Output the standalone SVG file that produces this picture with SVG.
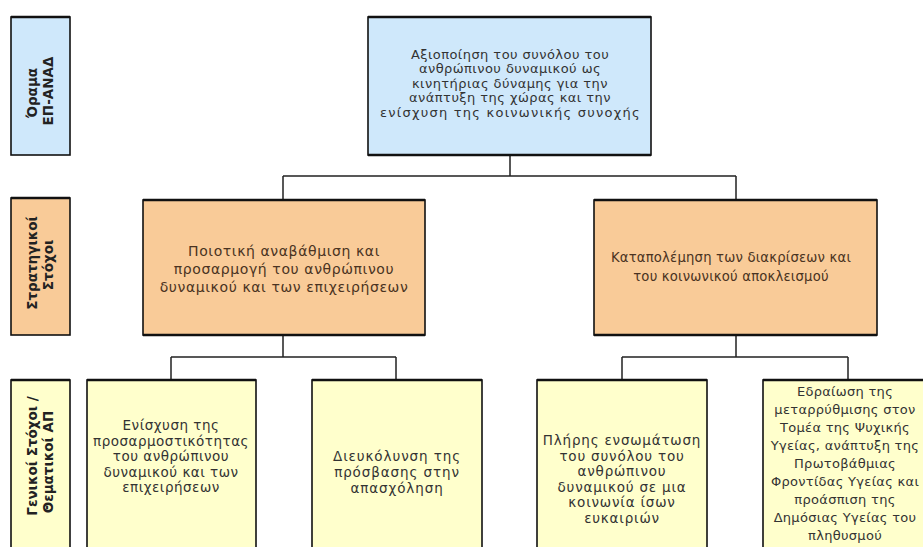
<svg xmlns="http://www.w3.org/2000/svg" width="923" height="547" viewBox="0 0 923 547">
<style>
.box{stroke:#111;stroke-width:1.6}
.edge{stroke:#111;stroke-width:2.6}
.blue{fill:#cfe8fb}
.orange{fill:#f9cb98}
.yellow{fill:#ffffcc}
.t{font-family:"DejaVu Sans","Noto Sans",sans-serif;font-size:13.5px;letter-spacing:0.5px;fill:#333;text-anchor:middle}
.to{fill:#4a3322}
.lab{font-family:"DejaVu Sans","Noto Sans",sans-serif;font-size:13.5px;font-weight:bold;fill:#222;text-anchor:middle}
.conn{stroke:#222;stroke-width:1.5;fill:none}
</style>
<rect width="923" height="547" fill="#fff"/>
<g id="label-vision">
<rect class="box blue" x="11" y="17" width="59" height="138"/>
<line class="edge" x1="11" y1="17" x2="70" y2="17"/>
<text class="lab" transform="translate(37,93) rotate(-90)">Όραμα</text>
<text class="lab" transform="translate(53,91) rotate(-90)">ΕΠ-ΑΝΑΔ</text>
</g>
<g id="label-strategic">
<rect class="box orange" x="11" y="198" width="59" height="137"/>
<line class="edge" x1="11" y1="198" x2="70" y2="198"/>
<text class="lab" transform="translate(37,263) rotate(-90)">Στρατηγικοί</text>
<text class="lab" transform="translate(53,265) rotate(-90)">Στόχοι</text>
</g>
<g id="label-general">
<rect class="box yellow" x="11" y="380" width="59" height="180"/>
<line class="edge" x1="11" y1="380" x2="70" y2="380"/>
<text class="lab" transform="translate(37,456) rotate(-90)">Γενικοί Στόχοι /</text>
<text class="lab" transform="translate(53,462) rotate(-90)">Θεματικοί ΑΠ</text>
</g>
<g id="connectors">
<path class="conn" d="M510 155V176M283 176H736M283 176V200M736 176V200"/>
<path class="conn" d="M283 335V357M171 357H396M171 357V380M396 357V380"/>
<path class="conn" d="M736 335V357M622 357H848M622 357V380M848 357V380"/>
</g>
<g id="vision">
<rect class="box blue" x="368" y="17" width="283" height="138"/>
<line class="edge" x1="368" y1="17" x2="651" y2="17"/>
<line class="edge" x1="368" y1="155" x2="651" y2="155"/>
<text class="t" style="font-size:13px;letter-spacing:0.45px"><tspan x="510" y="58.5">Αξιοποίηση του συνόλου του</tspan><tspan x="510" y="73">ανθρώπινου δυναμικού ως</tspan><tspan x="510" y="87.5">κινητήριας δύναμης για την</tspan><tspan x="510" y="102">ανάπτυξη της χώρας και την</tspan><tspan x="510" y="116.5" textLength="260">ενίσχυση της κοινωνικής συνοχής</tspan></text>
</g>
<g id="strategic-1">
<rect class="box orange" x="143" y="200" width="282" height="135"/>
<line class="edge" x1="143" y1="200" x2="425" y2="200"/>
<line class="edge" x1="143" y1="335" x2="425" y2="335"/>
<text class="t to" style="font-size:14px;letter-spacing:0.6px"><tspan x="284" y="255.5">Ποιοτική αναβάθμιση και</tspan><tspan x="284" y="273.5">προσαρμογή του ανθρώπινου</tspan><tspan x="284" y="291.5">δυναμικού και των επιχειρήσεων</tspan></text>
</g>
<g id="strategic-2">
<rect class="box orange" x="594" y="200" width="283" height="135"/>
<line class="edge" x1="594" y1="200" x2="877" y2="200"/>
<line class="edge" x1="594" y1="335" x2="877" y2="335"/>
<text class="t to" style="font-size:13.2px;letter-spacing:0.2px"><tspan x="731" y="262">Καταπολέμηση των διακρίσεων και</tspan><tspan x="731" y="281">του κοινωνικού αποκλεισμού</tspan></text>
</g>
<g id="goal-1">
<rect class="box yellow" x="87" y="380" width="169" height="180"/>
<line class="edge" x1="87" y1="380" x2="256" y2="380"/>
<text class="t"><tspan x="171" y="430">Ενίσχυση της</tspan><tspan x="171" y="445.5">προσαρμοστικότητας</tspan><tspan x="171" y="461">του ανθρώπινου</tspan><tspan x="171" y="476.5">δυναμικού και των</tspan><tspan x="171" y="492">επιχειρήσεων</tspan></text>
</g>
<g id="goal-2">
<rect class="box yellow" x="312" y="380" width="170" height="180"/>
<line class="edge" x1="312" y1="380" x2="482" y2="380"/>
<text class="t" style="letter-spacing:0.9px"><tspan x="397" y="461">Διευκόλυνση της</tspan><tspan x="397" y="477">πρόσβασης στην</tspan><tspan x="397" y="493">απασχόληση</tspan></text>
</g>
<g id="goal-3">
<rect class="box yellow" x="537" y="380" width="170" height="180"/>
<line class="edge" x1="537" y1="380" x2="707" y2="380"/>
<text class="t" style="letter-spacing:0.8px"><tspan x="622" y="445">Πλήρης ενσωμάτωση</tspan><tspan x="622" y="460.6">του συνόλου του</tspan><tspan x="622" y="476.2">ανθρώπινου</tspan><tspan x="622" y="491.8">δυναμικού σε μια</tspan><tspan x="622" y="507.4">κοινωνία ίσων</tspan><tspan x="622" y="523">ευκαιριών</tspan></text>
</g>
<g id="goal-4">
<rect class="box yellow" x="763" y="380" width="180" height="180"/>
<line class="edge" x1="763" y1="380" x2="943" y2="380"/>
<text class="t" style="font-size:13px;letter-spacing:0.3px"><tspan x="845" y="396">Εδραίωση της</tspan><tspan x="845" y="414">μεταρρύθμισης στον</tspan><tspan x="845" y="432">Τομέα της Ψυχικής</tspan><tspan x="845" y="450">Υγείας, ανάπτυξη της</tspan><tspan x="845" y="468">Πρωτοβάθμιας</tspan><tspan x="845" y="486">Φροντίδας Υγείας και</tspan><tspan x="845" y="504">προάσπιση της</tspan><tspan x="845" y="522">Δημόσιας Υγείας του</tspan><tspan x="845" y="540">πληθυσμού</tspan></text>
</g>
</svg>
